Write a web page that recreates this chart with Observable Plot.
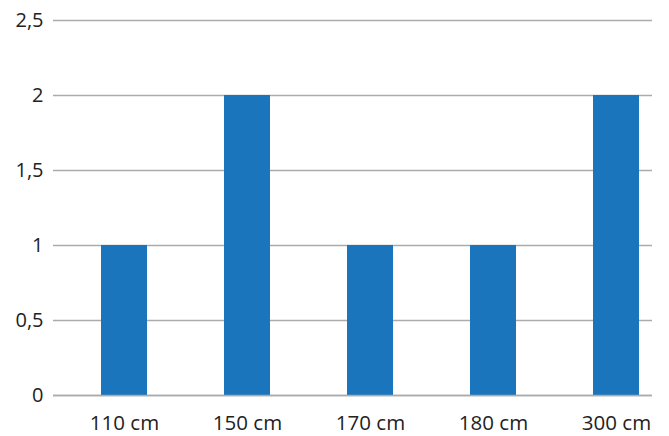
<!DOCTYPE html>
<html><head><meta charset="utf-8">
<script src="https://cdn.jsdelivr.net/npm/d3@7"></script>
<script src="https://cdn.jsdelivr.net/npm/@observablehq/plot@0.6"></script>
<style>body{margin:0;background:#fff}</style>
</head><body><div id="chart"></div>
<script>
const categories = ["110 cm", "150 cm", "170 cm", "180 cm", "300 cm"];
const values = [1, 2, 1, 1, 2];
const yTicks = [0, 0.5, 1, 1.5, 2, 2.5];
const yTickLabels = ["0", "0,5", "1", "1,5", "2", "2,5"];

const data = categories.map((c, i) => ({cat: c, v: values[i]}));
const chart = Plot.plot({
  width: 669, height: 436,
  marginLeft: 53, marginRight: 17, marginTop: 20, marginBottom: 41,
  style: {fontFamily: "'Open Sans', sans-serif", color: "#222"},
  x: {domain: categories, range: [62, 677], paddingInner: 0.63, paddingOuter: 0.315},
  y: {domain: [0, 2.5]},
  marks: [
    Plot.ruleY(yTicks, {stroke: "#ababab", strokeWidth: 1.5}),
    Plot.barY(data, {x: "cat", y: "v", fill: "#1a75bc"}),
    Plot.ruleY([0], {stroke: "#ababab", strokeWidth: 1.5}),
    Plot.axisX({tickSize: 0, tickPadding: 20, label: null, fontSize: 20.5}),
    Plot.axisY(yTicks, {tickSize: 0, tickPadding: 10, label: null, fontSize: 20, tickFormat: d => yTickLabels[yTicks.indexOf(d)]})
  ]
});
document.getElementById("chart").append(chart);
</script>
</body></html>
